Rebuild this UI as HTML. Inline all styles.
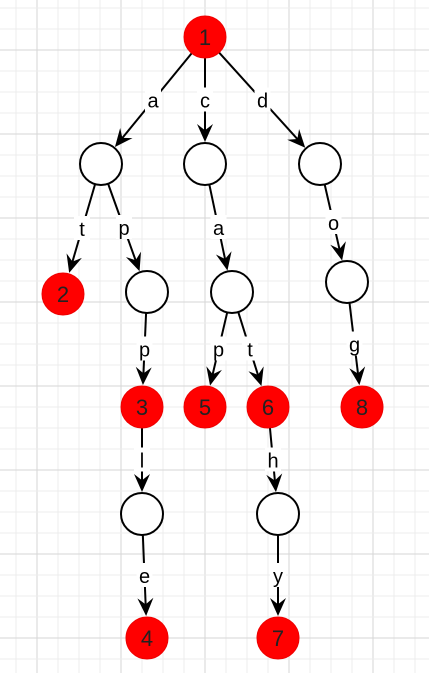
<!DOCTYPE html>
<html><head><meta charset="utf-8"><style>
html,body{margin:0;padding:0;background:#fff;}
svg{display:block;}
text{font-family:"Liberation Sans",Arial,sans-serif;}
</style></head><body>
<svg id="c" width="429" height="673">
<g id="grid"></g>
<g id="edges"></g>
<g id="nodes"></g>
</svg>
<script>
const nodeIds=[1,'n_a','n_c','n_d',2,'n_ap','n_ca','n_do',3,5,6,8,'n_l','n_h',4,7];
const nodeX=[205,101,205,320,63,147,232,347,142,205,268,362,142,278,147,278];
const nodeY=[37,164,164,164,294,292,292,282,407,407,407,407,514,514,638,638];
const nodeRed=[1,0,0,0,1,0,0,0,1,1,1,1,0,0,1,1];
const edgeFrom=[0,0,0,1,1,2,3,5,6,6,7,8,10,12,13];
const edgeTo=[1,2,3,4,5,6,7,8,9,10,11,12,13,14,15];
const edgeLabel=['a','c','d','t','p','a','o','p','p','t','g','l','h','e','y'];
const NS='http://www.w3.org/2000/svg';
function mk(t,a,p){const e=document.createElementNS(NS,t);for(const k in a)e.setAttribute(k,a[k]);p.appendChild(e);return e;}
const grid=document.getElementById('grid');
for(let x=37-84;x<429;x+=21){const dark=((x-37)%84+84)%84===0;const l=mk('line',{x1:x,y1:0,x2:x,y2:673,stroke:dark?'#d6d6d6':'#ececec','stroke-width':1},grid);

}
for(let y=50-84;y<673;y+=21){const dark=((y-50)%84+84)%84===0;const l=mk('line',{x1:0,y1:y,x2:429,y2:y,stroke:dark?'#d6d6d6':'#ececec','stroke-width':1},grid);

}
const R=21;
const eg=document.getElementById('edges');
edgeFrom.forEach((f,i)=>{const t=edgeTo[i];
const x1=nodeX[f],y1=nodeY[f],x2=nodeX[t],y2=nodeY[t];
const dx=x2-x1,dy=y2-y1,L=Math.hypot(dx,dy),ux=dx/L,uy=dy/L;
const sx=x1+ux*R,sy=y1+uy*R,ex=x2-ux*(R+1),ey=y2-uy*(R+1);
const g=mk('g',{},eg);


mk('line',{x1:sx,y1:sy,x2:ex-ux*10,y2:ey-uy*10,stroke:'#000','stroke-width':2},g);
const px=-uy,py=ux,al=18,aw=8;
const bx=ex-ux*al,by=ey-uy*al;
mk('path',{d:`M${ex},${ey} L${bx+px*aw},${by+py*aw} L${ex-ux*al*0.65},${ey-uy*al*0.65} L${bx-px*aw},${by-py*aw} Z`,fill:'#000'},g);
const mx=(x1+x2)/2,my=(y1+y2)/2;
mk('rect',{x:mx-8,y:my-13,width:16,height:24,fill:'#fff'},g);
const tx=mk('text',{x:mx,y:my+7,'font-size':20,'text-anchor':'middle',fill:'#000'},g);tx.textContent=edgeLabel[i];
});
const ng=document.getElementById('nodes');
nodeIds.forEach((id,i)=>{const g=mk('g',{},ng);


if(nodeRed[i]){mk('circle',{cx:nodeX[i],cy:nodeY[i],r:R,fill:'#f00',stroke:'#e00','stroke-width':1},g);
const t=mk('text',{x:nodeX[i],y:nodeY[i]+8,'font-size':22,'text-anchor':'middle',fill:'#222'},g);t.textContent=id;}
else mk('circle',{cx:nodeX[i],cy:nodeY[i],r:R,fill:'#fff',stroke:'#000','stroke-width':2},g);
});
</script>
</body></html>
